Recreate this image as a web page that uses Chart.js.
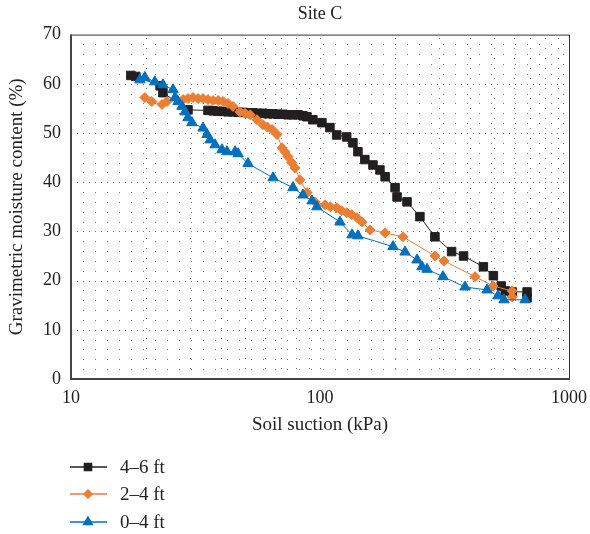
<!DOCTYPE html>
<html>
<head>
<meta charset="utf-8">
<script src="https://cdn.jsdelivr.net/npm/chart.js@4"></script>
<style>
  html, body { margin: 0; padding: 0; background: #fff; }
</style>
</head>
<body>
<canvas id="chart" width="590" height="534"></canvas>
<script>
// ---- data (soil suction kPa vs gravimetric moisture %) ----
const seriesNames = ['4–6 ft', '2–4 ft', '0–4 ft'];

const suction46 = [17.4, 18.2, 22.8, 23.4, 29.5, 35.5, 37.2, 38.9, 40.8, 42.7, 44.7, 46.9, 49.1, 51.4,
  53.8, 56.4, 59.0, 61.8, 64.8, 67.8, 71.0, 74.4, 77.9, 81.6, 85.4, 88.6, 93.6,
  101.8, 109.6, 116.7, 128, 135.6, 142, 151.4, 163.2, 174.1, 182.6, 200.2, 203.9, 223.6, 251.9, 289.4,
  337.7, 377.2, 453, 496.9, 534.4, 554.6, 591.3, 678.5, 678.5];
const moisture46 = [61.7, 61.5, 59.6, 58.2, 54.7, 54.6, 54.5, 54.4, 54.4, 54.3, 54.3, 54.2, 54.2, 54.1,
  54.1, 54.0, 54.0, 53.9, 53.9, 53.8, 53.8, 53.7, 53.7, 53.7, 53.5, 53.3, 52.7,
  52.1, 51.1, 49.6, 49.2, 48.0, 46.2, 44.6, 43.5, 42.5, 41.1, 38.9, 37.0, 36.0, 33.0, 28.9,
  25.9, 25.0, 22.8, 21.0, 18.9, 17.9, 17.7, 17.7, 16.5];

const suction24 = [19.8, 21.1, 23.2, 24.3, 28.2, 29.5, 30.9, 32.4, 33.9, 35.5, 37.2, 39, 40.8, 42.7,
  44.7, 47.7, 50, 52.4, 55.8, 59, 61.5, 64.2, 67.2, 70.4, 72.3, 74.4, 77, 79.4, 83.1, 88.7, 95.5,
  104.7, 110, 116.7, 122, 128, 134, 140.8, 147.5, 158.8, 182.6, 215.4, 289.4, 314.8, 419.4, 495.3,
  591.3, 591.3];
const moisture24 = [57.2, 56.4, 55.8, 56.4, 56.8, 57.0, 57.2, 57.0, 57.0, 56.8, 56.6, 56.6, 56.4, 56.0,
  55.4, 54.3, 54.0, 53.7, 52.7, 51.7, 51.2, 50.7, 49.7, 47.0, 46.2, 45.2, 44.0, 42.9, 40.5, 37.9, 36.0,
  35.4, 35.0, 34.8, 34.2, 33.8, 33.4, 32.8, 31.9, 30.3, 29.7, 28.9, 25.0, 24.0, 20.8, 18.9,
  17.9, 16.7];

const suction04 = [18.9, 19.8, 21.7, 23.4, 25.7, 26.2, 26.9, 27.9, 28.7, 29.5, 30.6, 33.9, 35.2, 36.2,
  37.9, 40.4, 42.3, 45.6, 46.9, 51.4, 64.8, 77.9, 85.4, 92.9, 97.2, 120.3, 134.5, 142, 196.5, 219.5,
  245.3, 256.8, 269, 311.9, 382.3, 468.6, 518.7, 548.3, 666.3];
const moisture04 = [60.8, 61.3, 60.4, 59.8, 58.8, 57.2, 56.4, 55.4, 54.3, 53.1, 52.1, 51.0, 49.7, 48.6,
  47.6, 46.6, 46.2, 46.2, 45.8, 43.8, 40.9, 38.9, 37.4, 36.2, 35.0, 31.9, 29.3, 29.1, 26.9, 25.8,
  24.2, 22.8, 22.3, 20.8, 18.7, 18.1, 16.9, 16.1, 16.1];

const xTickValues = [10, 100, 1000];
const xGridValues = [20, 30, 40, 50, 60, 70, 80, 90, 100, 200, 300, 400, 500, 600, 700, 800, 900];
const yGridValues = [2, 4, 6, 8, 10, 12, 14, 16, 18, 20, 22, 24, 26, 28, 30, 32, 34, 36, 38, 40,
  42, 44, 46, 48, 50, 52, 54, 56, 58, 60, 62, 64, 66, 68];

const SERIF = '"Liberation Serif", "DejaVu Serif", serif';
const BLACK = '#231f20';
const ORANGE = '#ed7d31';
const BLUE = '#0070c0';

function toPoints(xs, ys) {
  return xs.map((x, i) => ({ x: x, y: ys[i] }));
}

// dotted grid + plot frame, drawn from the scales
const dottedGrid = {
  id: 'dottedGrid',
  beforeDatasetsDraw(chart) {
    const { ctx, chartArea: a, scales: { x, y } } = chart;
    ctx.save();
    ctx.strokeStyle = '#7a7a7a';
    ctx.lineWidth = 1;
    ctx.setLineDash([1, 9]);
    xGridValues.forEach(v => {
      const px = Math.round(x.getPixelForValue(v)) + 0.5;
      ctx.beginPath();
      ctx.moveTo(px, a.bottom);
      ctx.lineTo(px, a.top);
      ctx.stroke();
    });
    yGridValues.forEach(v => {
      const py = Math.round(y.getPixelForValue(v)) + 0.5;
      ctx.setLineDash(v % 10 === 0 ? [1, 5] : [1, 11]);
      ctx.beginPath();
      ctx.moveTo(a.left, py);
      ctx.lineTo(a.right, py);
      ctx.stroke();
    });
    ctx.setLineDash([]);
    ctx.strokeStyle = '#333';
    ctx.strokeRect(a.left + 0.5, a.top + 0.5, a.right - a.left, a.bottom - a.top);
    ctx.lineWidth = 2;
    ctx.strokeStyle = '#444';
    ctx.beginPath();
    ctx.moveTo(a.left, a.top);
    ctx.lineTo(a.left, a.bottom);
    ctx.lineTo(a.right + 1, a.bottom);
    ctx.stroke();
    ctx.restore();
  }
};

// vertical legend under the plot
const stackedLegend = {
  id: 'stackedLegend',
  afterDraw(chart) {
    const ctx = chart.ctx;
    const rows = [467, 494, 522];
    ctx.save();
    chart.data.datasets.forEach((ds, i) => {
      const y = rows[i];
      ctx.strokeStyle = ds.borderColor;
      ctx.lineWidth = 1.5;
      ctx.beginPath();
      ctx.moveTo(70, y);
      ctx.lineTo(107, y);
      ctx.stroke();
      ctx.fillStyle = ds.pointBackgroundColor;
      ctx.strokeStyle = ds.pointBorderColor;
      Chart.helpers.drawPoint(ctx, {
        pointStyle: ds.pointStyle,
        radius: ds.pointRadius - 1,
        rotation: 0,
        borderWidth: 1
      }, 88, y);
      ctx.fillStyle = '#222';
      ctx.font = '19px ' + SERIF;
      ctx.textBaseline = 'middle';
      ctx.fillText(ds.label, 120, y + 1);
    });
    ctx.restore();
  }
};

function series(label, xs, ys, color, style, radius, order) {
  return {
    label: label,
    data: toPoints(xs, ys),
    showLine: true,
    borderColor: color,
    borderWidth: 1,
    pointStyle: style,
    pointRadius: radius,
    pointBackgroundColor: color,
    pointBorderColor: color,
    pointBorderWidth: 1,
    order: order
  };
}

new Chart(document.getElementById('chart'), {
  type: 'scatter',
  data: {
    datasets: [
      series(seriesNames[0], suction46, moisture46, BLACK, 'rect', 6, 2),
      series(seriesNames[1], suction24, moisture24, ORANGE, 'rectRot', 5, 1),
      series(seriesNames[2], suction04, moisture04, BLUE, 'triangle', 6, 0)
    ]
  },
  options: {
    responsive: false,
    animation: false,
    layout: { padding: { top: 0, right: 21, bottom: 95, left: 0 } },
    plugins: {
      legend: { display: false },
      tooltip: { enabled: false },
      title: {
        display: true,
        fullSize: false,
        text: 'Site C',
        color: '#222',
        font: { family: SERIF, size: 18, weight: 'normal' },
        padding: { top: 3, bottom: 10 }
      }
    },
    scales: {
      x: {
        type: 'logarithmic',
        min: 10,
        max: 1000,
        grid: { display: false, drawTicks: false },
        border: { display: false },
        afterBuildTicks: s => { s.ticks = xTickValues.map(v => ({ value: v })); },
        afterFit: s => { s.height = 60; s.paddingLeft = 0; s.paddingRight = 0; },
        ticks: {
          color: '#222',
          padding: 8,
          maxRotation: 0,
          font: { family: SERIF, size: 18 },
          callback: v => String(v)
        },
        title: {
          display: true,
          text: 'Soil suction (kPa)',
          color: '#222',
          font: { family: SERIF, size: 19 },
          padding: { top: 0, bottom: 3 }
        }
      },
      y: {
        min: 0,
        max: 70,
        grid: { display: false, drawTicks: false },
        border: { display: false },
        afterFit: s => { s.width = 71; },
        ticks: {
          stepSize: 10,
          color: '#222',
          padding: 10,
          font: { family: SERIF, size: 18 }
        },
        title: {
          display: true,
          text: 'Gravimetric moisture content (%)',
          color: '#222',
          font: { family: SERIF, size: 19 },
          padding: { top: 6, bottom: 0 }
        }
      }
    }
  },
  plugins: [dottedGrid, stackedLegend]
});
</script>
</body>
</html>
